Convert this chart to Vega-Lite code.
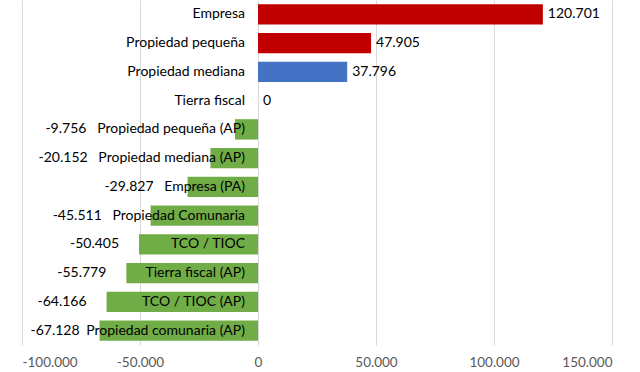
{
  "$schema": "https://vega.github.io/schema/vega-lite/v6.json",
  "autosize": "none",
  "width": 590,
  "height": 345,
  "padding": {"left": 22, "top": 0, "right": 28, "bottom": 27},
  "background": "white",
  "data": {
    "values": [
      {"categoria": "Empresa", "valor": 120701, "tipo": "a"},
      {"categoria": "Propiedad pequeña", "valor": 47905, "tipo": "a"},
      {"categoria": "Propiedad mediana", "valor": 37796, "tipo": "b"},
      {"categoria": "Tierra fiscal", "valor": 0, "tipo": "c"},
      {"categoria": "Propiedad pequeña (AP)", "valor": -9756, "tipo": "c"},
      {"categoria": "Propiedad mediana (AP)", "valor": -20152, "tipo": "c"},
      {"categoria": "Empresa (PA)", "valor": -29827, "tipo": "c"},
      {"categoria": "Propiedad Comunaria", "valor": -45511, "tipo": "c"},
      {"categoria": "TCO / TIOC", "valor": -50405, "tipo": "c"},
      {"categoria": "Tierra fiscal (AP)", "valor": -55779, "tipo": "c"},
      {"categoria": "TCO / TIOC (AP)", "valor": -64166, "tipo": "c"},
      {"categoria": "Propiedad comunaria (AP)", "valor": -67128, "tipo": "c"}
    ]
  },
  "transform": [
    {"calculate": "datum.valor < 0 && datum.valor > -50000 ? format(datum.valor, ',.0f') + '\u00a0\u00a0\u00a0' + datum.categoria : datum.categoria", "as": "etiqueta"}
  ],
  "encoding": {
    "y": {"field": "categoria", "type": "nominal", "sort": null,
      "scale": {"paddingInner": 0.29, "paddingOuter": 0.145},
      "axis": null}
  },
  "layer": [
    {
      "mark": {"type": "bar"},
      "encoding": {
        "x": {"field": "valor", "type": "quantitative",
          "scale": {"domain": [-100000, 150000], "nice": false, "zero": false},
          "axis": {"values": [-100000, -50000, 0, 50000, 100000, 150000], "format": ",.0f",
            "title": null, "domain": false, "ticks": false, "labelPadding": 10,
            "grid": true, "gridColor": "#D9D9D9", "gridWidth": 1,
            "labelFont": "Lato", "labelFontSize": 13.5, "labelColor": "#595959"}},
        "color": {"field": "tipo", "type": "nominal", "legend": null,
          "scale": {"domain": ["a", "b", "c"], "range": ["#C00000", "#4472C4", "#70AD47"]}}
      }
    },
    {
      "mark": {"type": "text", "align": "right", "baseline": "middle", "dx": -13, "font": "Lato", "fontSize": 14, "color": "#000000"},
      "encoding": {
        "x": {"datum": 0, "type": "quantitative"},
        "text": {"field": "etiqueta"}
      }
    },
    {
      "transform": [{"filter": "datum.valor >= 0"}],
      "mark": {"type": "text", "align": "left", "baseline": "middle", "dx": 5, "font": "Lato", "fontSize": 14, "color": "#000000"},
      "encoding": {
        "x": {"field": "valor", "type": "quantitative"},
        "text": {"field": "valor", "type": "quantitative", "format": ",.0f"}
      }
    },
    {
      "transform": [{"filter": "datum.valor <= -50000"}],
      "mark": {"type": "text", "align": "right", "baseline": "middle", "dx": -20, "font": "Lato", "fontSize": 14, "color": "#000000"},
      "encoding": {
        "x": {"field": "valor", "type": "quantitative"},
        "text": {"field": "valor", "type": "quantitative", "format": ",.0f"}
      }
    }
  ],
  "config": {
    "view": {"stroke": null},
    "locale": {
      "number": {"decimal": ",", "thousands": ".", "grouping": [3], "currency": ["", " €"], "minus": "-"}
    }
  }
}
